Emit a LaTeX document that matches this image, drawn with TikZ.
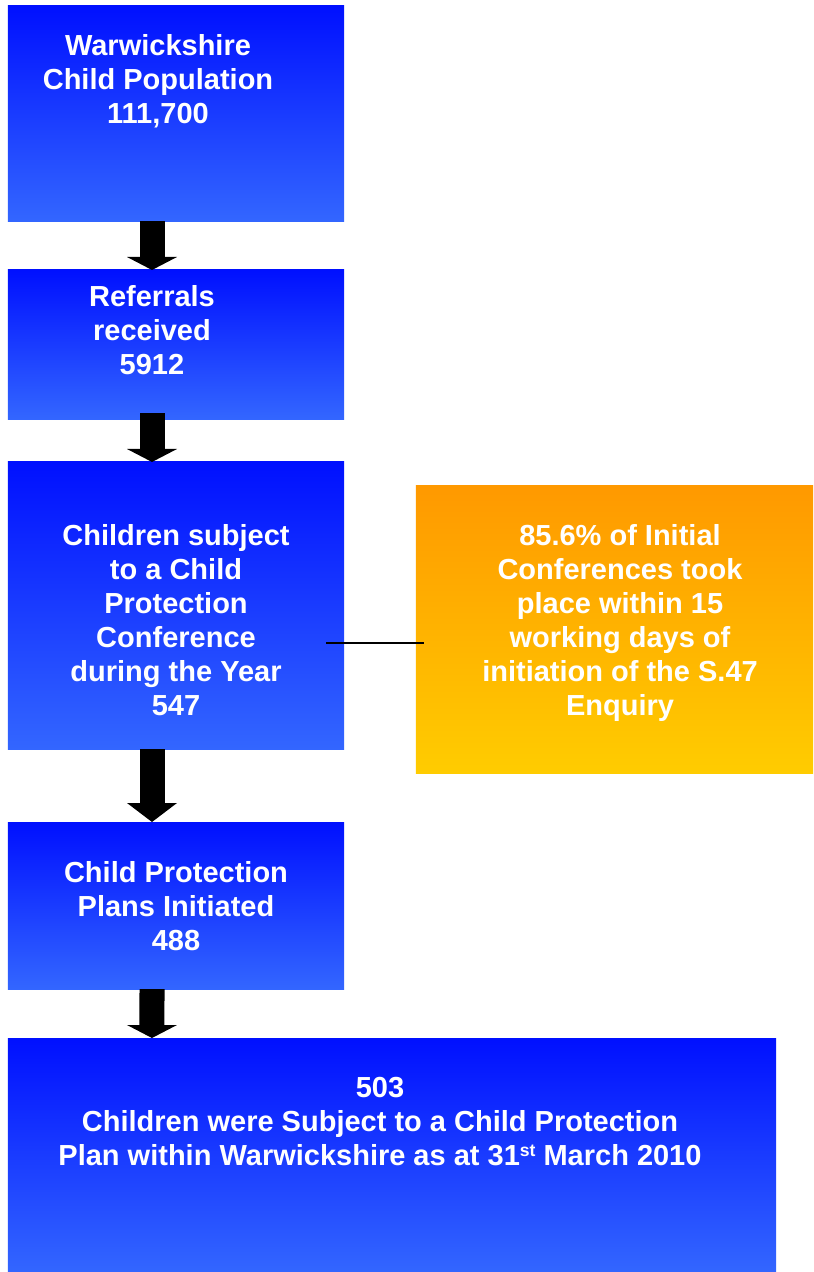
\documentclass[tikz,border=0pt]{standalone}
\usepackage{fontspec}
\setmainfont{Liberation Sans}
\usetikzlibrary{arrows.meta}
\definecolor{blusu}{RGB}{0,16,255}
\definecolor{blugiu}{RGB}{51,102,255}
\definecolor{arasu}{RGB}{255,153,0}
\definecolor{aragiu}{RGB}{255,204,0}
\tikzset{
  blocco/.style  = {rectangle, inner sep=0, outer sep=0, minimum width=10.08cm, top color=blusu, bottom color=blugiu},
  nota/.style    = {rectangle, inner sep=0, outer sep=0, minimum width=11.91cm, minimum height=8.61cm, top color=arasu, bottom color=aragiu},
  testo/.style   = {align=center, text=white, font=\fontsize{24.75}{29}\selectfont\bfseries},
  freccia/.style = {line width=.75cm, -{Triangle[width=1.5cm, length=#1, line width=0pt]}},
  link/.style    = {line width=1.4pt}
}

\begin{document}
\begin{tikzpicture}[x=.03cm, y=-.03cm]
  \useasboundingbox (0,0) rectangle (813,1272);

  % blocchi
  \node[blocco, minimum height=6.45cm] (b1) at (176,113.5) {};
  \node[blocco, minimum height=4.47cm] (b2) at (176,344.5) {};
  \node[blocco, minimum height=8.61cm] (b3) at (176,605.5) {};
  \node[blocco, minimum height=5.01cm] (b4) at (176,905.5) {};
  \node[blocco, minimum width=23.04cm, minimum height=7.02cm] (b5) at (392,1155) {};
  \node[nota] (n1) at (614.5,629.5) {};

  % testi
  \node[testo] (t1) at (158,81)  {Warwickshire\\Child Population\\111,700};
  \node[testo] (t2) at (152,330) {Referrals\\received\\5912};
  \node[testo] (t3) at (176,620) {Children subject\\to a Child\\Protection\\Conference\\during the Year\\547};
  \node[testo] (t6) at (620,623) {85.6\% of Initial\\Conferences took\\place within 15\\working days of\\initiation of the S.47\\Enquiry};
  \node[testo] (t4) at (176,906) {Child Protection\\Plans Initiated\\488};
  \node[testo] (t5) at (380,1122) {503\\Children were Subject to a Child Protection\\Plan within Warwickshire as at 31\raisebox{.6ex}{\fontsize{15}{15}\selectfont st} March 2010};

  % frecce
  \draw[freccia=.39cm] ([xshift=-.72cm]b1.south) -- ([xshift=-.72cm]b2.north);
  \draw[freccia=.39cm] ([xshift=-.72cm, yshift=.18cm]b2.south) -- ([xshift=-.72cm]b3.north);
  \draw[freccia=.57cm] ([xshift=-.72cm]b3.south) -- ([xshift=-.72cm]b4.north);
  \draw[freccia=.39cm] ([xshift=-.72cm]b4.south) -- ([xshift=-7.2cm]b5.north);

  % collegamento
  \draw[link] ([xshift=-.54cm, yshift=-1.125cm]b3.east) -- ([xshift=.24cm, yshift=-.405cm]n1.west);

\end{tikzpicture}
\end{document}
